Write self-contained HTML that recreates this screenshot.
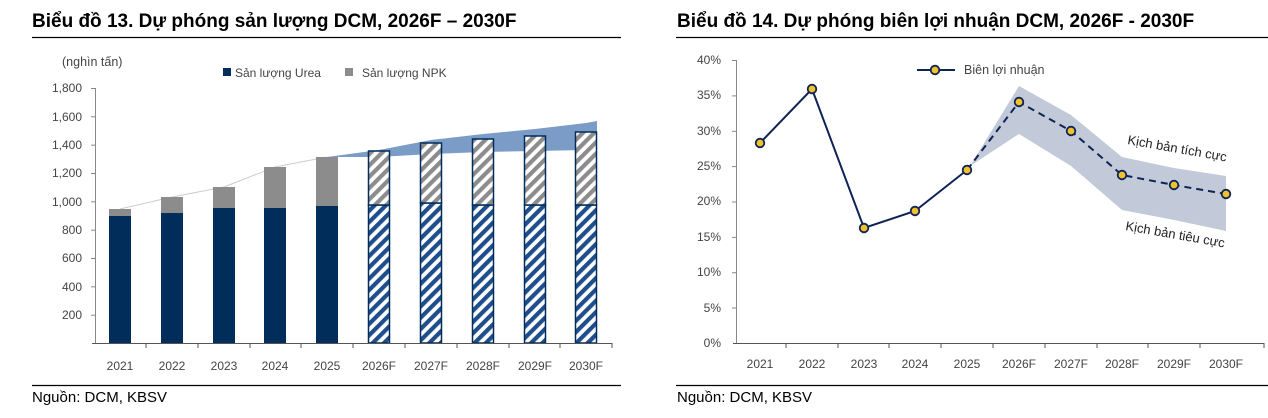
<!DOCTYPE html>
<html><head><meta charset="utf-8"><style>
body{margin:0;background:#fff;width:1268px;height:418px;overflow:hidden}
svg{display:block}
text{font-family:"Liberation Sans",sans-serif}
</style></head><body>
<svg width="1268" height="418" viewBox="0 0 1268 418" xmlns="http://www.w3.org/2000/svg">
<defs>
<pattern id="hb" patternUnits="userSpaceOnUse" width="8" height="8" patternTransform="rotate(45)">
<rect width="8" height="8" fill="#fff"/><rect width="4.2" height="8" fill="#1f4e8c"/></pattern>
<pattern id="hg" patternUnits="userSpaceOnUse" width="8" height="8" patternTransform="rotate(45)">
<rect width="8" height="8" fill="#fff"/><rect width="4.2" height="8" fill="#8c8c8c"/></pattern>
</defs>
<text x="32" y="27" font-size="19" font-weight="bold" fill="#000">Biểu đồ 13. Dự phóng sản lượng DCM, 2026F – 2030F</text>
<text x="677" y="27" font-size="19" font-weight="bold" fill="#000">Biểu đồ 14. Dự phóng biên lợi nhuận DCM, 2026F - 2030F</text>
<line x1="32" y1="37.5" x2="621" y2="37.5" stroke="#000" stroke-width="1.2"/>
<line x1="676" y1="37.5" x2="1268" y2="37.5" stroke="#000" stroke-width="1.2"/>
<line x1="32" y1="385.5" x2="621" y2="385.5" stroke="#000" stroke-width="1.2"/>
<line x1="676" y1="385.5" x2="1268" y2="385.5" stroke="#000" stroke-width="1.2"/>
<text x="32" y="402" font-size="15" fill="#000">Nguồn: DCM, KBSV</text>
<text x="677" y="402" font-size="15" fill="#000">Nguồn: DCM, KBSV</text>

<g font-size="12" fill="#444">
<text x="62" y="66" font-size="12.5">(nghìn tấn)</text>
<rect x="223" y="68" width="8" height="8" fill="#002d5a"/><text x="235" y="77">Sản lượng Urea</text>
<rect x="345" y="68" width="8" height="8" fill="#8c8c8c"/><text x="362" y="77">Sản lượng NPK</text>
<g text-anchor="end">
<text x="82" y="319">200</text><text x="82" y="291">400</text><text x="82" y="262">600</text>
<text x="82" y="234">800</text><text x="82" y="206">1,000</text><text x="82" y="177">1,200</text>
<text x="82" y="149">1,400</text><text x="82" y="121">1,600</text><text x="82" y="92">1,800</text>
</g>
<g text-anchor="middle">
<text x="120" y="370">2021</text><text x="172" y="370">2022</text><text x="224" y="370">2023</text>
<text x="275" y="370">2024</text><text x="327" y="370">2025</text><text x="379" y="370">2026F</text>
<text x="431" y="370">2027F</text><text x="483" y="370">2028F</text><text x="535" y="370">2029F</text>
<text x="586" y="370">2030F</text>
</g>
</g>
<g stroke="#888" stroke-width="1">
<line x1="95.5" y1="88" x2="95.5" y2="343"/>
<line x1="91" y1="88.5" x2="95" y2="88.5"/><line x1="91" y1="116.8" x2="95" y2="116.8"/><line x1="91" y1="145.2" x2="95" y2="145.2"/>
<line x1="91" y1="173.5" x2="95" y2="173.5"/><line x1="91" y1="201.8" x2="95" y2="201.8"/><line x1="91" y1="230.2" x2="95" y2="230.2"/>
<line x1="91" y1="258.5" x2="95" y2="258.5"/><line x1="91" y1="286.8" x2="95" y2="286.8"/><line x1="91" y1="315.2" x2="95" y2="315.2"/>
</g>
<polygon points="327,157 379,150 431,140 483,134 535,129 586,123 597,121 597,150 586,150 535,151 483,152 431,154 379,157" fill="#7a9cc6"/>
<polyline points="120,209 172,197 224,187 275,167 327,157" fill="none" stroke="#ccc" stroke-width="1"/>
<g>
<rect x="109" y="216" width="22" height="127" fill="#002d5a"/><rect x="109" y="209" width="22" height="7" fill="#8c8c8c"/>
<rect x="161" y="213" width="22" height="130" fill="#002d5a"/><rect x="161" y="197" width="22" height="16" fill="#8c8c8c"/>
<rect x="213" y="208" width="22" height="135" fill="#002d5a"/><rect x="213" y="187" width="22" height="21" fill="#8c8c8c"/>
<rect x="264" y="208" width="22" height="135" fill="#002d5a"/><rect x="264" y="167" width="22" height="41" fill="#8c8c8c"/>
<rect x="316" y="206" width="22" height="137" fill="#002d5a"/><rect x="316" y="157" width="22" height="49" fill="#8c8c8c"/>
</g>
<g stroke="#002d5a" stroke-width="1.5">
<rect x="368.5" y="205" width="21" height="138" fill="url(#hb)"/><rect x="368.5" y="151" width="21" height="54" fill="url(#hg)"/>
<rect x="420.5" y="203" width="21" height="140" fill="url(#hb)"/><rect x="420.5" y="143" width="21" height="60" fill="url(#hg)"/>
<rect x="472.5" y="205" width="21" height="138" fill="url(#hb)"/><rect x="472.5" y="139" width="21" height="66" fill="url(#hg)"/>
<rect x="524.5" y="205" width="21" height="138" fill="url(#hb)"/><rect x="524.5" y="136" width="21" height="69" fill="url(#hg)"/>
<rect x="575.5" y="205" width="21" height="138" fill="url(#hb)"/><rect x="575.5" y="132" width="21" height="73" fill="url(#hg)"/>
</g>
<g stroke="#555" stroke-width="1">
<line x1="92" y1="343.5" x2="612" y2="343.5"/>
<line x1="146" y1="343" x2="146" y2="348"/><line x1="198" y1="343" x2="198" y2="348"/><line x1="250" y1="343" x2="250" y2="348"/>
<line x1="301" y1="343" x2="301" y2="348"/><line x1="353" y1="343" x2="353" y2="348"/><line x1="405" y1="343" x2="405" y2="348"/>
<line x1="457" y1="343" x2="457" y2="348"/><line x1="509" y1="343" x2="509" y2="348"/><line x1="560" y1="343" x2="560" y2="348"/>
<line x1="612" y1="343" x2="612" y2="348"/>
</g>

<g font-size="12" fill="#444">
<g text-anchor="end">
<text x="721" y="347">0%</text><text x="721" y="312">5%</text><text x="721" y="276">10%</text>
<text x="721" y="241">15%</text><text x="721" y="205">20%</text><text x="721" y="170">25%</text>
<text x="721" y="135">30%</text><text x="721" y="99">35%</text><text x="721" y="64">40%</text>
</g>
<g text-anchor="middle">
<text x="760" y="368">2021</text><text x="812" y="368">2022</text><text x="864" y="368">2023</text>
<text x="915" y="368">2024</text><text x="967" y="368">2025</text><text x="1019" y="368">2026F</text>
<text x="1071" y="368">2027F</text><text x="1122" y="368">2028F</text><text x="1174" y="368">2029F</text>
<text x="1226" y="368">2030F</text>
</g>
<text x="964" y="74" font-size="12.5">Biên lợi nhuận</text>
</g>
<g stroke="#888" stroke-width="1">
<line x1="736.5" y1="60" x2="736.5" y2="343"/>
<line x1="732" y1="60.5" x2="736" y2="60.5"/><line x1="732" y1="95.9" x2="736" y2="95.9"/><line x1="732" y1="131.3" x2="736" y2="131.3"/>
<line x1="732" y1="166.6" x2="736" y2="166.6"/><line x1="732" y1="202" x2="736" y2="202"/><line x1="732" y1="237.4" x2="736" y2="237.4"/>
<line x1="732" y1="272.7" x2="736" y2="272.7"/><line x1="732" y1="308" x2="736" y2="308"/>
</g>
<polygon points="967,171 1019,86 1071,115 1122,157 1174,168 1226,176 1226,231 1174,220 1122,210 1071,166 1019,134 967,168" fill="#c2cad9"/>
<polyline points="760,143 812,89 864,228 915,211 967,170" fill="none" stroke="#0f2454" stroke-width="2"/>
<polyline points="967,170 1019,102 1071,131 1122,175 1174,185 1226,194" fill="none" stroke="#0f2454" stroke-width="2" stroke-dasharray="7,5"/>
<g fill="#f2c12e" stroke="#0f2454" stroke-width="1.8">
<circle cx="760" cy="143" r="4.3"/><circle cx="812" cy="89" r="4.3"/><circle cx="864" cy="228" r="4.3"/>
<circle cx="915" cy="211" r="4.3"/><circle cx="967" cy="170" r="4.3"/><circle cx="1019" cy="102" r="4.3"/>
<circle cx="1071" cy="131" r="4.3"/><circle cx="1122" cy="175" r="4.3"/><circle cx="1174" cy="185" r="4.3"/>
<circle cx="1226" cy="194" r="4.3"/>
</g>
<line x1="917" y1="70" x2="955" y2="70" stroke="#0f2454" stroke-width="2"/>
<circle cx="935" cy="70" r="4.3" fill="#f2c12e" stroke="#0f2454" stroke-width="1.8"/>
<text x="1127" y="144" font-size="13" fill="#222" transform="rotate(10 1127 144)">Kịch bản tích cực</text>
<text x="1125" y="230" font-size="13" fill="#222" transform="rotate(10 1125 230)">Kịch bản tiêu cực</text>
<g stroke="#555" stroke-width="1">
<line x1="733" y1="343.5" x2="1264" y2="343.5"/>
<line x1="786" y1="343" x2="786" y2="348"/><line x1="838" y1="343" x2="838" y2="348"/><line x1="889" y1="343" x2="889" y2="348"/>
<line x1="941" y1="343" x2="941" y2="348"/><line x1="993" y1="343" x2="993" y2="348"/><line x1="1045" y1="343" x2="1045" y2="348"/>
<line x1="1097" y1="343" x2="1097" y2="348"/><line x1="1148" y1="343" x2="1148" y2="348"/><line x1="1200" y1="343" x2="1200" y2="348"/>
<line x1="1264" y1="343" x2="1264" y2="348"/>
</g>
</svg>
</body></html>
